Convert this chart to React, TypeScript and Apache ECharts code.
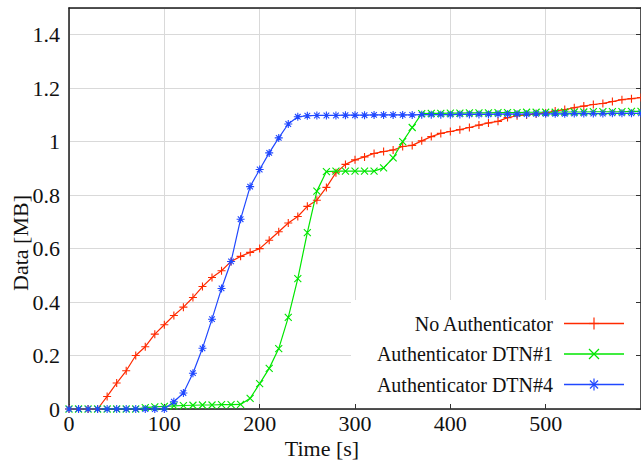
import React, { useEffect, useRef } from 'react';
import * as echarts from 'echarts';

const timeSec = [
  0, 10, 20, 30, 40, 50, 60, 70, 80, 90,
  100, 110, 120, 130, 140, 150, 160, 170, 180, 190,
  200, 210, 220, 230, 240, 250, 260, 270, 280, 290,
  300, 310, 320, 330, 340, 350, 360, 370, 380, 390,
  400, 410, 420, 430, 440, 450, 460, 470, 480, 490,
  500, 510, 520, 530, 540, 550, 560, 570, 580, 590,
  600,
];

const noAuthenticator = [
  0, 0, 0, 0, 0.047, 0.097, 0.143, 0.2, 0.233, 0.28,
  0.315, 0.35, 0.381, 0.417, 0.458, 0.492, 0.517, 0.552, 0.571, 0.586,
  0.6, 0.631, 0.663, 0.696, 0.72, 0.758, 0.781, 0.829, 0.884, 0.915,
  0.932, 0.943, 0.956, 0.963, 0.969, 0.982, 0.986, 1.003, 1.019, 1.031,
  1.038, 1.045, 1.053, 1.062, 1.07, 1.076, 1.09, 1.097, 1.1, 1.104,
  1.107, 1.115, 1.12, 1.127, 1.133, 1.139, 1.143, 1.15, 1.157, 1.161,
  1.165,
];

const authenticatorDtn1 = [
  0, 0, 0, 0, 0, 0, 0, 0, 0.005, 0.008,
  0.01, 0.012, 0.013, 0.014, 0.015, 0.015, 0.016, 0.016, 0.017, 0.04,
  0.095, 0.152, 0.226, 0.343, 0.488, 0.66, 0.815, 0.888, 0.89, 0.89,
  0.89, 0.89, 0.89, 0.902, 0.939, 1.0, 1.053, 1.105, 1.106, 1.106,
  1.107, 1.107, 1.108, 1.108, 1.108, 1.109, 1.109, 1.109, 1.11, 1.11,
  1.11, 1.11, 1.111, 1.111, 1.111, 1.112, 1.112, 1.112, 1.112, 1.113,
  1.113,
];

const authenticatorDtn4 = [
  0, 0, 0, 0, 0, 0, 0, 0, 0, 0,
  0, 0.027, 0.06, 0.134, 0.227, 0.336, 0.451, 0.552, 0.71, 0.832,
  0.896, 0.958, 1.014, 1.066, 1.093, 1.097, 1.098, 1.098, 1.098, 1.099,
  1.099, 1.099, 1.1, 1.1, 1.1, 1.1, 1.1, 1.101, 1.101, 1.101,
  1.101, 1.102, 1.102, 1.102, 1.102, 1.103, 1.103, 1.103, 1.103, 1.104,
  1.104, 1.104, 1.104, 1.105, 1.105, 1.105, 1.105, 1.106, 1.106, 1.106,
  1.106,
];

const seriesNames = ['No Authenticator', 'Authenticator DTN#1', 'Authenticator DTN#4'];
const seriesColors = ['#ff2a00', '#00e600', '#2048ff'];
const xAxisTitle = 'Time [s]';
const yAxisTitle = 'Data [MB]';

const FONT = '"Liberation Serif", "Times New Roman", serif';

const SYM_PLUS = 'path://M0,5L10,5M5,0L5,10';
const SYM_CROSS = 'path://M0,0L10,10M10,0L0,10';
const SYM_STAR = 'path://M0,5L10,5M5,0L5,10M1.5,1.5L8.5,8.5M8.5,1.5L1.5,8.5';

function pairs(values: number[]) {
  return timeSec.map((t, i) => [t, values[i]]);
}

function legendMarker(kind: number, cx: number, cy: number, color: string) {
  const r = 5;
  const els: any[] = [];
  const st = { stroke: color, lineWidth: 1.2 };
  if (kind === 0 || kind === 2) {
    els.push({ type: 'line', z: 7, shape: { x1: cx - r, y1: cy, x2: cx + r, y2: cy }, style: st });
    els.push({ type: 'line', z: 7, shape: { x1: cx, y1: cy - r - 1, x2: cx, y2: cy + r + 1 }, style: st });
  }
  if (kind === 1 || kind === 2) {
    const d = kind === 1 ? 5 : 4;
    els.push({ type: 'line', z: 7, shape: { x1: cx - d, y1: cy - d, x2: cx + d, y2: cy + d }, style: st });
    els.push({ type: 'line', z: 7, shape: { x1: cx + d, y1: cy - d, x2: cx - d, y2: cy + d }, style: st });
  }
  return els;
}

export default function App() {
  const ref = useRef<HTMLDivElement>(null);

  useEffect(() => {
    if (!ref.current) return;
    const chart = echarts.init(ref.current, undefined, { renderer: 'svg' });

    const symbols = [SYM_PLUS, SYM_CROSS, SYM_STAR];
    const dataSets = [noAuthenticator, authenticatorDtn1, authenticatorDtn4];

    const legendRows = [323.5, 354, 384.5];
    const legendEls: any[] = [
      { type: 'rect', z: 1, shape: { x: 351, y: 300, width: 291, height: 108 }, style: { fill: '#ffffff' } },
    ];
    seriesNames.forEach((name, i) => {
      const y = legendRows[i];
      legendEls.push({
        type: 'text', z: 7, x: 553, y,
        style: { text: name, font: `20px ${FONT}`, fill: '#111', align: 'right', verticalAlign: 'middle' },
      });
      legendEls.push({
        type: 'line', z: 7, shape: { x1: 564, y1: y, x2: 624, y2: y },
        style: { stroke: seriesColors[i], lineWidth: 1.3 },
      });
      legendMarker(i, 594, y, seriesColors[i]).forEach((e) => legendEls.push(e));
    });

    const option: any = {
      animation: false,
      backgroundColor: '#ffffff',
      grid: { left: 69, top: 8, width: 573, height: 401, containLabel: false },
      xAxis: [
        {
          type: 'value', position: 'bottom', min: 0, max: 600, interval: 100, z: 5,
          axisLine: { show: true, onZero: false, lineStyle: { color: '#1a1a1a', width: 1.5 } },
          axisTick: { show: true, inside: true, length: 5, lineStyle: { color: '#333' } },
          axisLabel: { show: true, showMaxLabel: false, margin: 3, fontFamily: FONT, fontSize: 22, color: '#111' },
          splitLine: { show: false },
        },
        {
          type: 'value', position: 'top', min: 0, max: 600, interval: 100, z: 0,
          axisLine: { show: true, onZero: false, lineStyle: { color: '#1a1a1a', width: 1.5 } },
          axisTick: { show: false },
          axisLabel: { show: false },
          splitLine: { show: true, lineStyle: { color: '#d9d9d9', width: 1 } },
        },
      ],
      yAxis: [
        {
          type: 'value', position: 'left', min: 0, max: 1.5, interval: 0.2, z: 0,
          axisLine: { show: true, onZero: false, lineStyle: { color: '#1a1a1a', width: 1.5 } },
          axisTick: { show: false },
          axisLabel: { show: true, showMaxLabel: false, margin: 9, fontFamily: FONT, fontSize: 22, color: '#111' },
          splitLine: { show: true, lineStyle: { color: '#d9d9d9', width: 1 } },
        },
        {
          type: 'value', position: 'right', min: 0, max: 1.5, interval: 0.2, z: 5,
          axisLine: { show: true, onZero: false, lineStyle: { color: '#1a1a1a', width: 1.5 } },
          axisTick: { show: true, inside: true, length: 5, lineStyle: { color: '#333' } },
          axisLabel: { show: false },
          splitLine: { show: false },
        },
      ],
      series: seriesNames.map((name, i) => ({
        name,
        type: 'line',
        xAxisIndex: 0,
        yAxisIndex: 0,
        z: 6,
        data: pairs(dataSets[i]),
        symbol: symbols[i],
        symbolSize: i === 1 ? 7 : 8,
        showSymbol: true,
        lineStyle: { color: seriesColors[i], width: 1.2 },
        itemStyle: { color: seriesColors[i], borderColor: seriesColors[i], borderWidth: 1.1 },
        emphasis: { disabled: true },
      })),
      graphic: [
        ...legendEls,
        {
          type: 'text', z: 7, x: 322, y: 448,
          style: { text: xAxisTitle, font: `22px ${FONT}`, fill: '#111', align: 'center', verticalAlign: 'middle' },
        },
        {
          type: 'text', z: 7, x: 20, y: 243, rotation: Math.PI / 2,
          style: { text: yAxisTitle, font: `22px ${FONT}`, fill: '#111', align: 'center', verticalAlign: 'middle' },
        },
      ],
    };

    chart.setOption(option);
    return () => chart.dispose();
  }, []);

  return (
    <div
      ref={ref}
      style={{ position: 'fixed', left: 0, top: 0, width: 641, height: 464, background: '#fff' }}
    />
  );
}
